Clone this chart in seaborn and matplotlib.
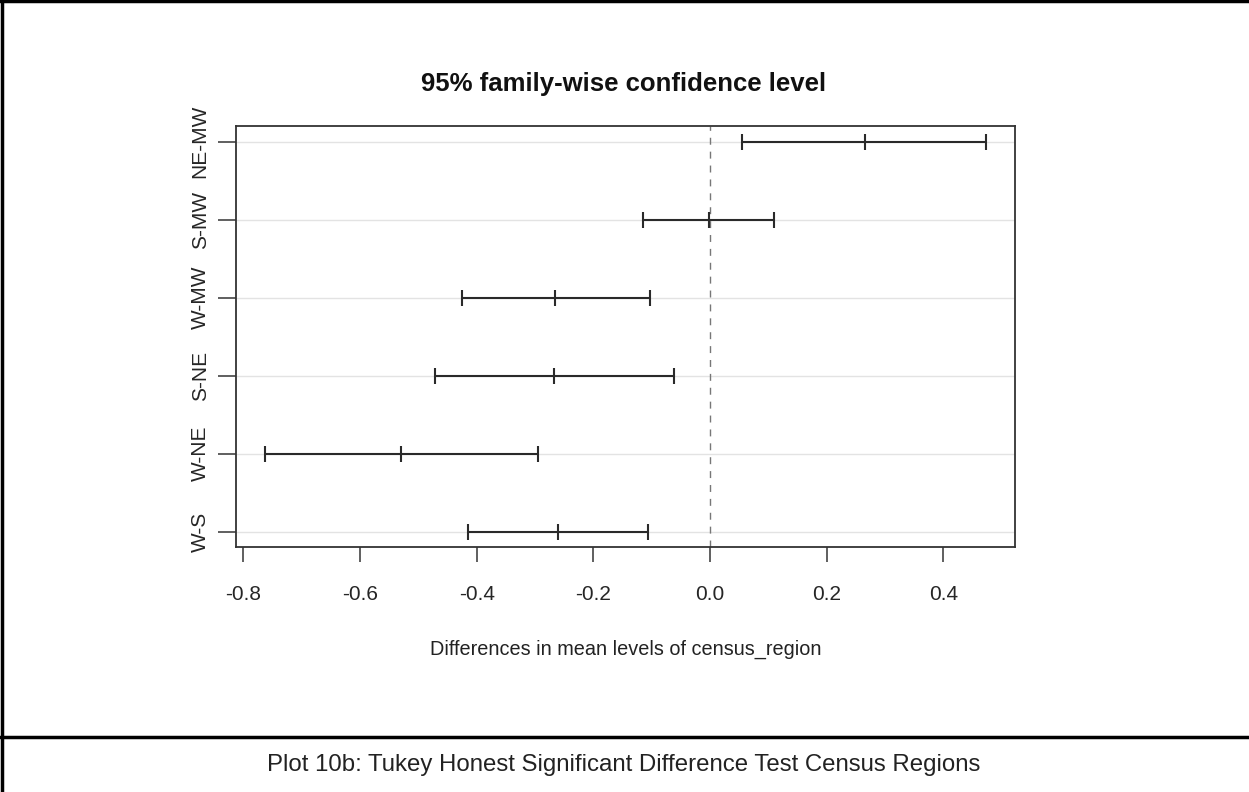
import matplotlib
matplotlib.use("Agg")
import matplotlib.pyplot as plt
import seaborn as sns
import pandas as pd
import numpy as np

# Data (Tukey HSD, census regions)
comparisons = ["NE-MW", "S-MW", "W-MW", "S-NE", "W-NE", "W-S"]
diff = [0.265, -0.002, -0.265, -0.267, -0.529, -0.261]
lwr = [0.055, -0.115, -0.425, -0.471, -0.762, -0.415]
upr = [0.474, 0.110, -0.103, -0.062, -0.295, -0.106]
x_ticks = [-0.8, -0.6, -0.4, -0.2, 0.0, 0.2, 0.4]

sns.set_theme(style="white")
plt.rcParams['font.family'] = ['Liberation Sans', 'DejaVu Sans']

n = len(comparisons)
df = pd.DataFrame({"comparison": comparisons, "diff": diff, "lwr": lwr, "upr": upr})
df["pos"] = n - np.arange(n)  # top to bottom like R's TukeyHSD plot
long = df.melt(id_vars=["comparison", "pos"], value_vars=["lwr", "diff", "upr"],
               var_name="stat", value_name="value")

W, H = 1249, 792
fig = plt.figure(figsize=(W / 100, H / 100), dpi=100)
ax = fig.add_axes([236 / W, 1 - 547.3 / H, (1015.3 - 236) / W, (547.3 - 126) / H])

# grid lines
for p in df["pos"]:
    ax.axhline(p, color="#e3e3e3", lw=1.0, zorder=0)
ax.axvline(0, color="#777777", lw=1.0, ls=(0, (5, 5)), zorder=1)

line_col = "#2a2a2a"
sns.lineplot(data=long, x="value", y="pos", units="comparison", estimator=None,
             sort=True, color=line_col, lw=1.5, ax=ax, legend=False)
sns.scatterplot(data=long, x="value", y="pos", marker="|", s=135, linewidth=1.5,
                color=line_col, ax=ax, legend=False, zorder=3)

ax.set_xlim(-0.8125, 0.5234)
ax.set_ylim(0.8, n + 0.2)
ax.set_xticks(x_ticks)
ax.set_xticklabels([f"{t:.1f}" for t in x_ticks])
ax.set_yticks(df["pos"])
ax.set_yticklabels(df["comparison"], rotation=90, va="center")
ax.tick_params(axis="x", direction="out", length=11, width=1.2, color="#444444",
               labelsize=15, pad=16, bottom=True)
ax.tick_params(axis="y", direction="out", length=13, width=1.2, color="#444444",
               labelsize=15, pad=6, left=True)
for s in ax.spines.values():
    s.set_color("#333333")
    s.set_linewidth(1.3)

ax.set_xlabel("Differences in mean levels of census_region", fontsize=14.3, labelpad=26,
              color="#222222")
ax.set_ylabel("")
fig.text(624 / W, 1 - 84 / H, "95% family-wise confidence level", ha="center", va="center",
         fontsize=18.5, fontweight="bold", color="#111111")

# document frame and caption
fig.add_artist(plt.Line2D([1.5 / W, 1.5 / W], [0, 1], color="black", lw=2.5,
                          transform=fig.transFigure))
fig.add_artist(plt.Line2D([0, 1], [1 - 1.2 / H, 1 - 1.2 / H], color="black", lw=2.5,
                          transform=fig.transFigure))
fig.add_artist(plt.Line2D([0, 1], [1 - 737 / H, 1 - 737 / H], color="black", lw=2.5,
                          transform=fig.transFigure))
fig.text(624 / W, 1 - 765 / H, "Plot 10b: Tukey Honest Significant Difference Test Census Regions",
         ha="center", va="center", fontsize=17.3, color="#222222")

fig.savefig("out.png", dpi=100)
